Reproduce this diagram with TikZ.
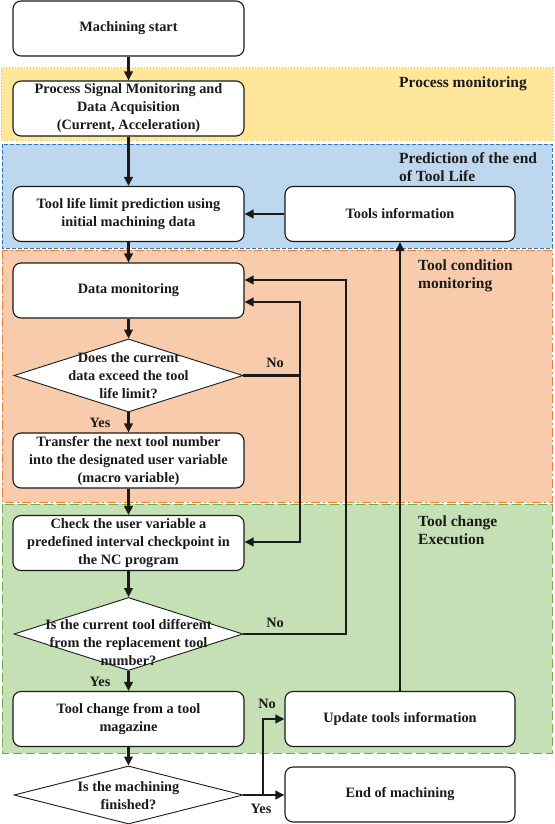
\documentclass[tikz,border=0pt]{standalone}
\usepackage{fontspec}
\setmainfont{Liberation Serif}
\usetikzlibrary{shapes.geometric,arrows.meta,calc}
\definecolor{bandY}{HTML}{FFE699}
\definecolor{bandYb}{HTML}{FFC000}
\definecolor{bandB}{HTML}{BDD7EE}
\definecolor{bandBb}{HTML}{2E75B6}
\definecolor{bandO}{HTML}{F8CBAD}
\definecolor{bandOb}{HTML}{ED7D31}
\definecolor{bandG}{HTML}{C5E0B4}
\definecolor{bandGb}{HTML}{70AD47}
\definecolor{ink}{HTML}{1A1A1A}
\begin{document}
\begin{tikzpicture}[x=1pt,y=-1pt,
  box/.style={draw=ink, line width=1.1pt, rounded corners=8pt, fill=white,
    minimum width=231pt, minimum height=55pt, align=center, inner sep=2pt,
    font=\fontsize{14.3}{18}\selectfont\bfseries, text=ink},
  rbox/.style={box, minimum width=230pt},
  dia/.style={draw=ink, diamond, fill=white, minimum width=229pt,
    minimum height=73pt, inner sep=0pt, line width=0.9pt},
  dtext/.style={align=center, inner sep=0pt,
    font=\fontsize{14.3}{18}\selectfont\bfseries, text=ink},
  arr/.style={draw=ink, line width=2.2pt, -{Triangle[length=9pt,width=8.5pt]}},
  yn/.style={font=\fontsize{14.3}{18}\selectfont\bfseries, text=ink, inner sep=0pt},
  bandlbl/.style={anchor=west, align=left, inner sep=0pt,
    font=\fontsize{15.5}{18}\selectfont\bfseries, text=ink}
]
\useasboundingbox (0,0) rectangle (554,824);

% bands
\path[fill=bandY, draw=bandYb, line width=1pt, dotted] (1,68) rectangle (553,140);
\path[fill=bandB, draw=bandBb, line width=1pt, dash pattern=on 4pt off 2pt] (2,144) rectangle (552,248);
\path[fill=bandO, draw=bandOb, line width=1pt, dash pattern=on 9pt off 3pt on 2pt off 3pt] (2,250) rectangle (552,502);
\path[fill=bandG, draw=bandGb, line width=1pt, dash pattern=on 9pt off 4pt] (2,504) rectangle (552,753);

\node[bandlbl] (lblPM) at (399,84) {Process monitoring};
\node[bandlbl] (lblPE) at (399,167) {Prediction of the end\\of Tool Life};
\node[bandlbl] (lblTC) at (418,276) {Tool condition\\monitoring};
\node[bandlbl] (lblTE) at (418,530) {Tool change\\Execution};

% nodes
\node[box] (start) at (128.5,28.5) {Machining start};
\node[box] (psm) at (128.5,108.5) {Process Signal Monitoring and\\Data Acquisition\\(Current, Acceleration)};
\node[box] (tlp) at (128.5,214) {Tool life limit prediction using\\initial machining data};
\node[rbox] (ti) at (400,214) {Tools information};
\node[box] (dm) at (128.5,290.5) {Data monitoring};
\node[dia] (d1) at (128.5,375.5) {};
\node[dtext] (d1t) at (128.5,376) {Does the current\\data exceed the tool\\life limit?};
\node[box] (tr) at (128.5,460.5) {Transfer the next tool number\\into the designated user variable\\(macro variable)};
\node[box] (chk) at (128.5,543) {Check the user variable a\\predefined interval checkpoint in\\the NC program};
\node[dia] (d2) at (128.5,634) {};
\node[dtext] (d2t) at (128.5,643) {Is the current tool different\\from the replacement tool\\number?};
\node[box] (tc) at (128.5,719) {Tool change from a tool\\magazine};
\node[rbox] (upd) at (400,719) {Update tools information};
\node[dia, minimum height=58pt] (d3) at (128.5,795) {};
\node[dtext] (d3t) at (128.5,796) {Is the machining\\finished?};
\node[rbox] (fin) at (400,794.5) {End of machining};

% junction coordinates
\coordinate (j1) at (300,375.5);
\coordinate (j2) at (346,634);
\coordinate (j3) at (263,795);

% main flow
\draw[arr] (start) -- (psm);
\draw[arr] (psm) -- (tlp);
\draw[arr] (tlp) -- (dm);
\draw[arr] (dm) -- (d1);
\draw[arr] (d1) -- (tr);
\draw[arr] (tr) -- (chk);
\draw[arr] (chk) -- (d2);
\draw[arr] (d2) -- (tc);
\draw[arr] (tc) -- (d3);
\draw[arr] (ti) -- (tlp);
\draw[arr] (upd) -- (ti);

% loops
\draw[arr] (d1.east) -- (j1) |- ([yshift=-11.5pt]dm.east);
\draw[arr] (j1) |- ([yshift=1pt]chk.east);
\draw[arr] (d2.east) -- (j2) |- ([yshift=10.5pt]dm.east);
\draw[arr] (d3.east) -- (fin.west |- d3.east);
\draw[arr] (j3) |- (upd.west);

% yes/no labels
\node[yn] (no1) at (275,363) {No};
\node[yn] (yes1) at (100,423) {Yes};
\node[yn] (no2) at (275,623) {No};
\node[yn] (yes2) at (100,682) {Yes};
\node[yn] (no3) at (267,704) {No};
\node[yn] (yes3) at (261,809) {Yes};
\end{tikzpicture}
\end{document}
